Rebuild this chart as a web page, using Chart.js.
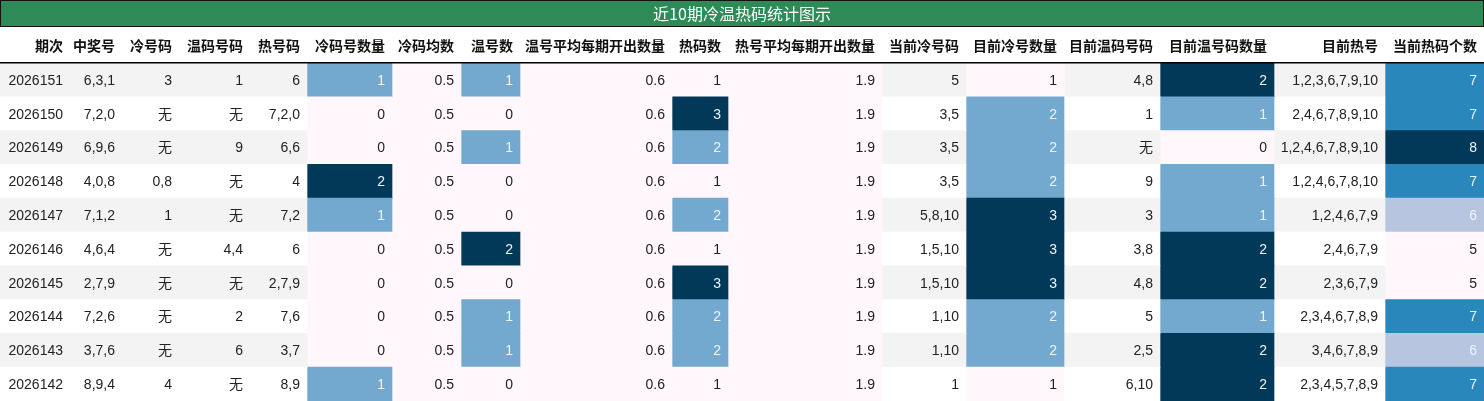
<!DOCTYPE html>
<html>
<head>
<meta charset="utf-8">
<script src="https://cdn.jsdelivr.net/npm/chart.js@4"></script>
<style>body{margin:0;background:#fff}canvas{display:block}</style>
</head>
<body>
<canvas id="c" width="1484" height="401"></canvas>
<script>
// table data, one array per column
const title = "近10期冷温热码统计图示";
const headers = ["期次","中奖号","冷号码","温码号码","热号码","冷码号数量","冷码均数","温号数","温号平均每期开出数量","热码数","热号平均每期开出数量","当前冷号码","目前冷号数量","目前温码号码","目前温号码数量","目前热号","当前热码个数"];
const periods = ["2026151","2026150","2026149","2026148","2026147","2026146","2026145","2026144","2026143","2026142"];
const winning = ["6,3,1","7,2,0","6,9,6","4,0,8","7,1,2","4,6,4","2,7,9","7,2,6","3,7,6","8,9,4"];
const coldNums = ["3","无","无","0,8","1","无","无","无","无","4"];
const warmNums = ["1","无","9","无","无","4,4","无","2","6","无"];
const hotNums = ["6","7,2,0","6,6","4","7,2","6","2,7,9","7,6","3,7","8,9"];
const coldCount = [1,0,0,2,1,0,0,0,0,1];
const coldAvg = [0.5,0.5,0.5,0.5,0.5,0.5,0.5,0.5,0.5,0.5];
const warmCount = [1,0,1,0,0,2,0,1,1,0];
const warmAvg = [0.6,0.6,0.6,0.6,0.6,0.6,0.6,0.6,0.6,0.6];
const hotCount = [1,3,2,1,2,1,3,2,2,1];
const hotAvg = [1.9,1.9,1.9,1.9,1.9,1.9,1.9,1.9,1.9,1.9];
const curCold = ["5","3,5","3,5","3,5","5,8,10","1,5,10","1,5,10","1,10","1,10","1"];
const curColdCount = [1,2,2,2,3,3,3,2,2,1];
const curWarm = ["4,8","1","无","9","3","3,8","4,8","5","2,5","6,10"];
const curWarmCount = [2,1,0,1,1,2,2,1,2,2];
const curHot = ["1,2,3,6,7,9,10","2,4,6,7,8,9,10","1,2,4,6,7,8,9,10","1,2,4,6,7,8,10","1,2,4,6,7,9","2,4,6,7,9","2,3,6,7,9","2,3,4,6,7,8,9","3,4,6,7,8,9","2,3,4,5,7,8,9"];
const curHotCount = [7,7,8,7,6,5,5,7,6,7];

const columns = [periods,winning,coldNums,warmNums,hotNums,coldCount,coldAvg,warmCount,warmAvg,hotCount,hotAvg,curCold,curColdCount,curWarm,curWarmCount,curHot,curHotCount];
const shaded = [false,false,false,false,false,true,true,true,true,true,true,false,true,false,true,false,true];
const colEdges = [0,70,122,179,250,307,392,461,520,672,728,882,966,1064,1160,1274,1385,1484];

// PuBu-like scale
const stops = [[0,[255,247,251]],[0.33,[185,198,224]],[0.5,[116,169,207]],[0.67,[39,134,188]],[1,[2,56,88]]];
function pubu(t){
  for (let i=1;i<stops.length;i++){
    if (t<=stops[i][0]+1e-9){
      const [a,ca]=stops[i-1],[b,cb]=stops[i];
      const f=(t-a)/(b-a||1);
      const c=ca.map((v,k)=>Math.round(v+(cb[k]-v)*f));
      return {c:`rgb(${c})`,dark:t>0.2};
    }
  }
}
function cellStyle(ci,ri){
  if (shaded[ci]){
    const col=columns[ci], mn=Math.min(...col), mx=Math.max(...col);
    const t = mx===mn?0:(col[ri]-mn)/(mx-mn);
    const p=pubu(t);
    return {bg:p.c,fg:p.dark?"#eef3f8":"#222"};
  }
  return {bg: ri%2===0?"#f3f3f3":"#ffffff", fg:"#222"};
}

const datasets = columns.map((col,ci)=>({
  data: periods.map(()=>[colEdges[ci],colEdges[ci+1]]),
  backgroundColor: periods.map((_,ri)=>cellStyle(ci,ri).bg),
  borderWidth:0, barPercentage:1, categoryPercentage:1, grouped:false
}));

const tablePlugin = {
  id:"tableText",
  afterDatasetsDraw(chart){
    const ctx=chart.ctx, x=chart.scales.x;
    ctx.save();
    // title bar
    ctx.fillStyle="#2e8b57"; ctx.fillRect(0,0,1484,27);
    ctx.strokeStyle="#111"; ctx.lineWidth=1; ctx.strokeRect(0.5,0.5,1483,26);
    ctx.fillStyle="#fff"; ctx.font="16px 'Noto Sans CJK SC'"; ctx.textAlign="center"; ctx.textBaseline="middle";
    ctx.fillText(title,742,14);
    // headers
    ctx.fillStyle="#111"; ctx.font="bold 14px 'Noto Sans CJK SC'"; ctx.textAlign="right";
    headers.forEach((h,ci)=>ctx.fillText(h,x.getPixelForValue(colEdges[ci+1])-7,46));
    ctx.fillStyle="#000"; ctx.fillRect(0,62,1484,1.5);
    // cell text
    ctx.font="14px 'Liberation Sans','Noto Sans CJK SC'";
    chart.data.datasets.forEach((ds,ci)=>{
      chart.getDatasetMeta(ci).data.forEach((bar,ri)=>{
        ctx.fillStyle=cellStyle(ci,ri).fg;
        ctx.fillText(String(columns[ci][ri]),x.getPixelForValue(colEdges[ci+1])-7,bar.y+1);
      });
    });
    ctx.restore();
  }
};

new Chart(document.getElementById("c"),{
  type:"bar",
  data:{labels:periods,datasets},
  options:{
    indexAxis:"y", responsive:false, animation:false,
    layout:{padding:{top:63,left:0,right:0,bottom:0}},
    plugins:{legend:{display:false},tooltip:{enabled:false}},
    scales:{
      x:{type:"linear",min:0,max:1484,display:false},
      y:{display:false,offset:true}
    }
  },
  plugins:[tablePlugin]
});
</script>
</body>
</html>
